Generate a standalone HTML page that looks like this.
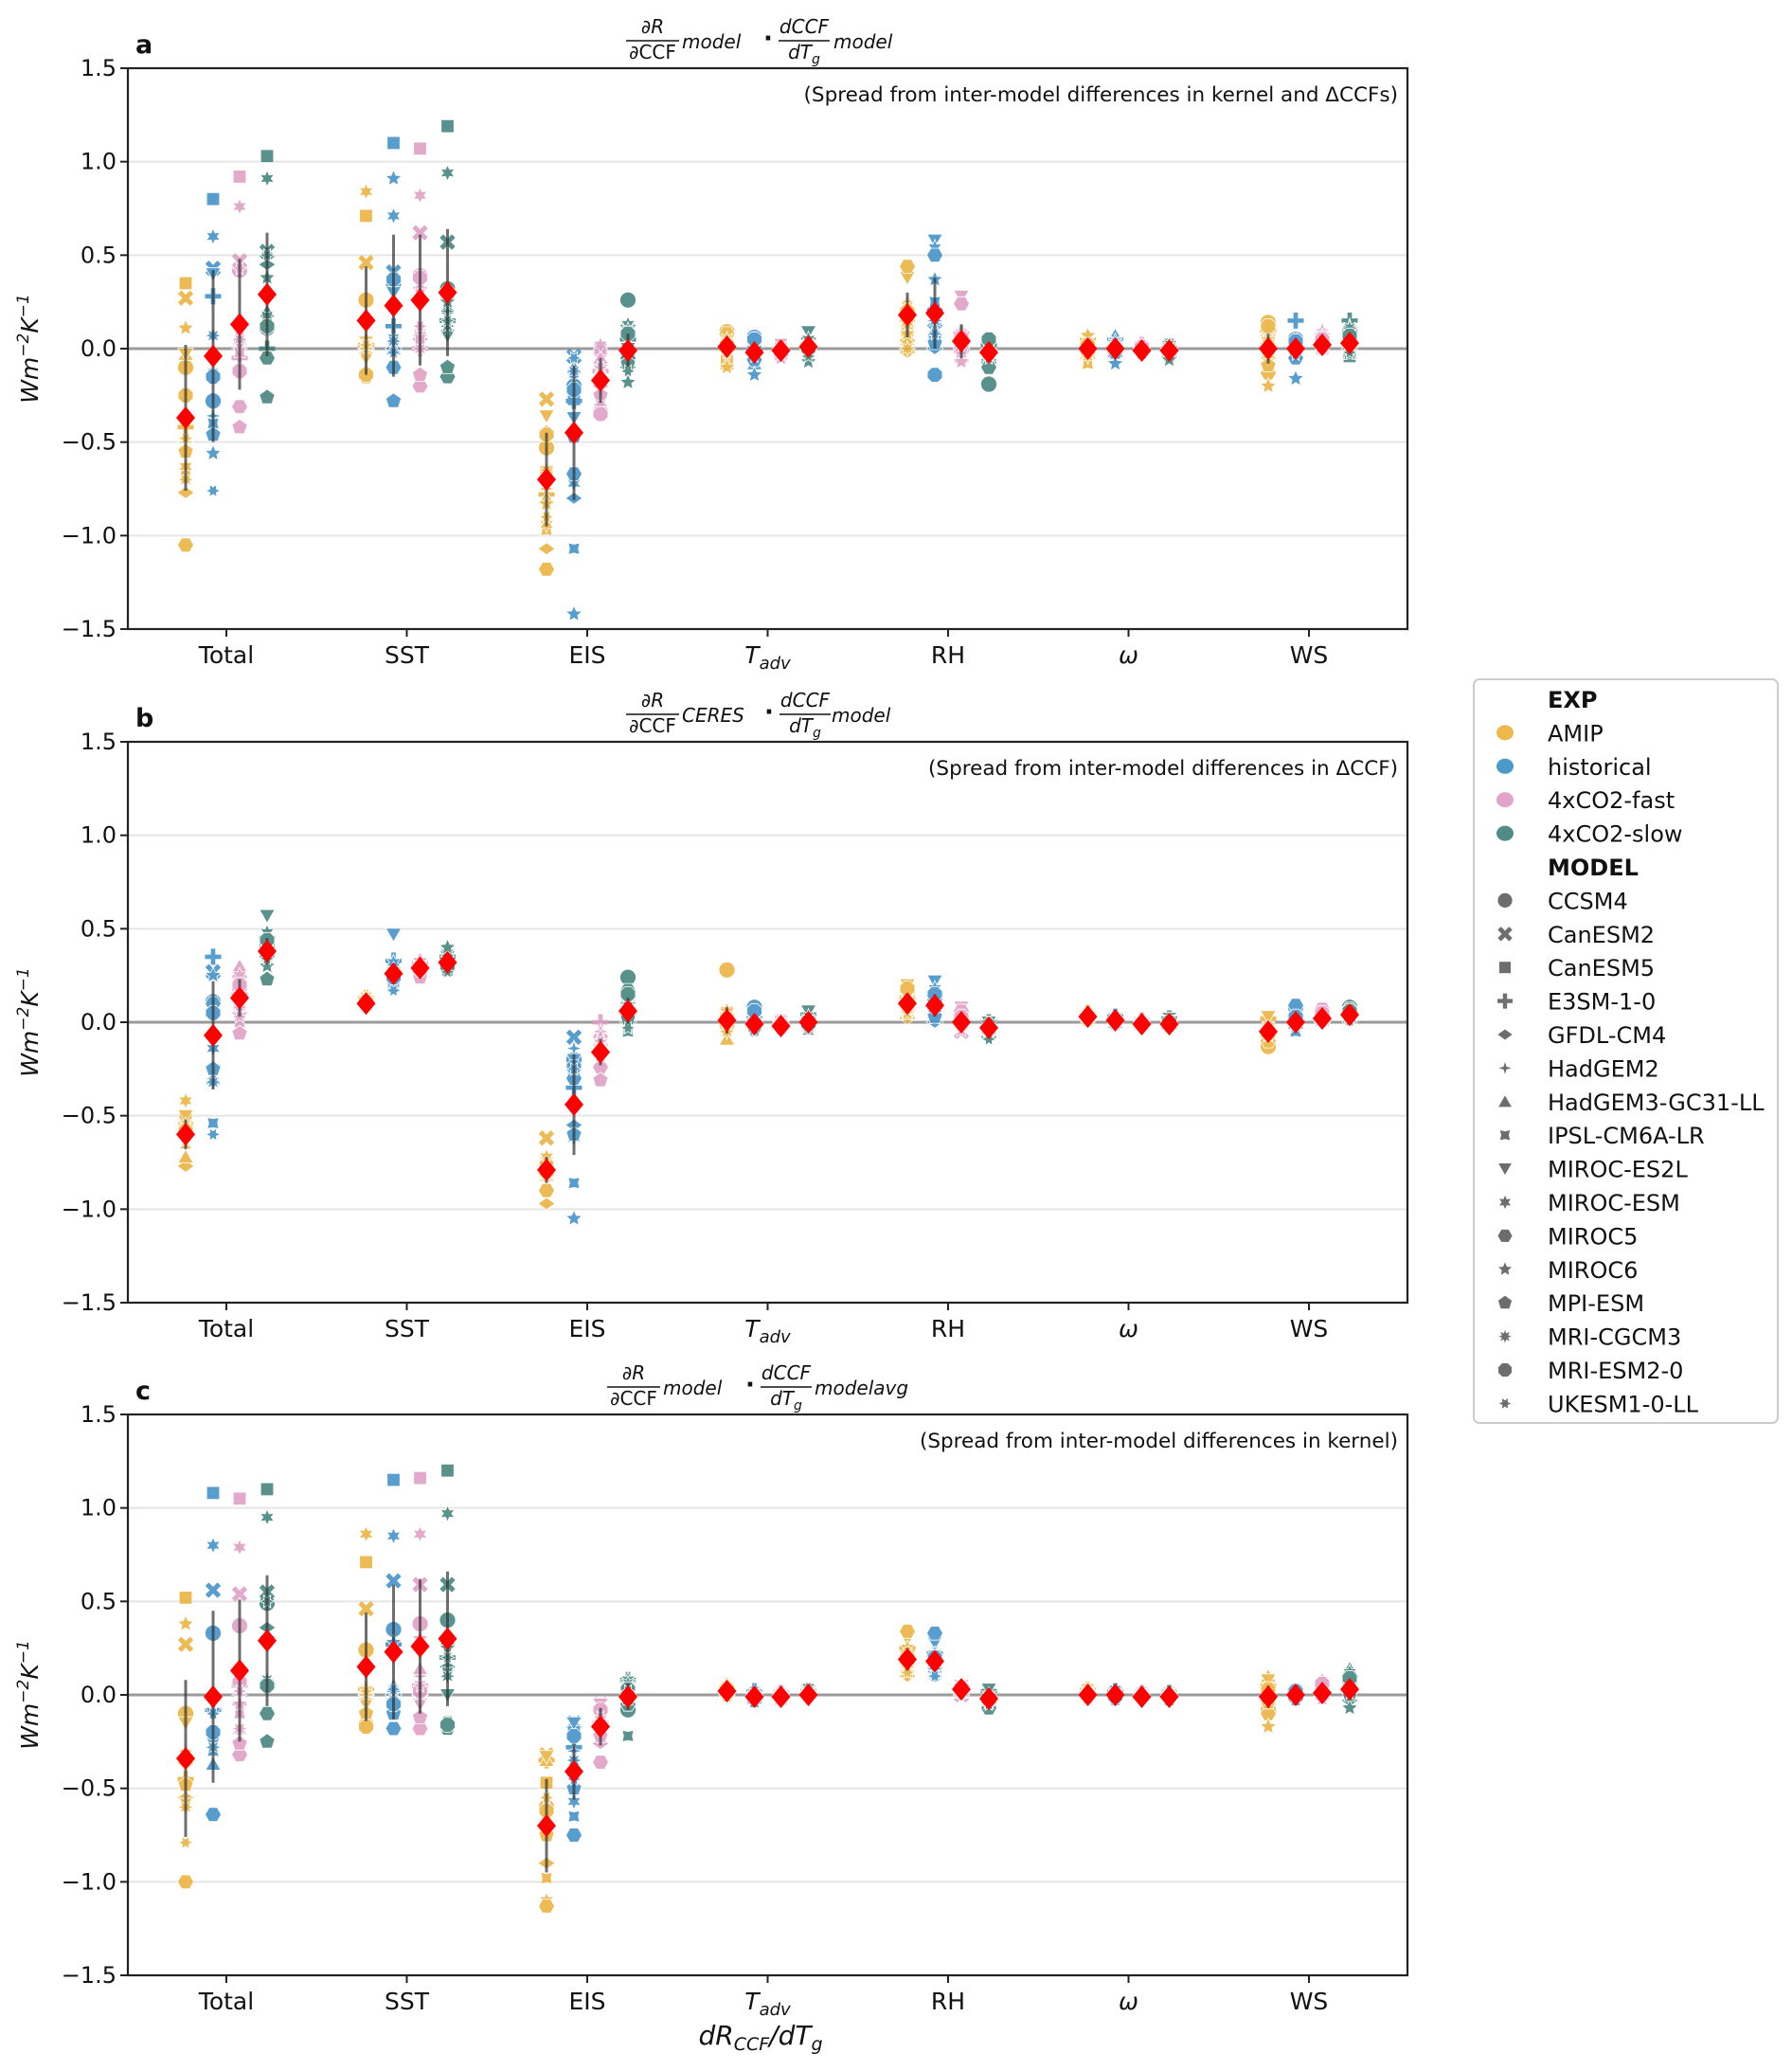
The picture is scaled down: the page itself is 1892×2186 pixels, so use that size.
<!DOCTYPE html>
<html><head><meta charset="utf-8"><style>
html,body{margin:0;padding:0;background:#fff;}
svg{display:block;font-family:"DejaVu Sans","Liberation Sans",sans-serif;}
</style></head><body>
<svg id="fig" width="1892" height="2186" viewBox="0 0 1892 2186" xmlns="http://www.w3.org/2000/svg"></svg>
<script>
const categories=["Total","SST","EIS","Tadv","RH","omega","WS"];
const experiments=["AMIP","historical","4xCO2-fast","4xCO2-slow"];
const models=["CCSM4","CanESM2","CanESM5","E3SM-1-0","GFDL-CM4","HadGEM2","HadGEM3-GC31-LL","IPSL-CM6A-LR","MIROC-ES2L","MIROC-ESM","MIROC5","MIROC6","MPI-ESM","MRI-CGCM3","MRI-ESM2-0","UKESM1-0-LL"];
const yTicks=[1.5,1.0,0.5,0.0,-0.5,-1.0,-1.5];
const yTickLabels=["1.5","1.0","0.5","0.0","\u22120.5","\u22121.0","\u22121.5"];

const panelA_values=[
[[-0.10,0.27,0.35,-0.42,-0.77,-0.50,-0.03,-0.65,-0.03,-0.63,-1.05,0.11,-0.55,-0.70,-0.25,-0.48],
 [-0.28,0.43,0.80,0.28,-0.45,-0.36,-0.42,-0.40,0.40,0.60,-0.14,-0.56,-0.46,0.07,-0.15,-0.76],
 [0.42,0.47,0.92,-0.05,-0.10,0.00,0.05,-0.02,0.02,0.76,-0.31,0.10,-0.42,0.05,-0.12,0.43],
 [0.11,0.52,1.03,0.00,0.45,0.20,0.20,0.17,0.10,0.91,-0.05,0.38,-0.26,0.12,0.12,0.50]],
[[0.26,0.46,0.71,0.02,0.00,0.05,0.00,0.03,-0.05,0.84,-0.15,0.05,-0.13,0.00,-0.14,0.02],
 [0.34,0.41,1.10,0.12,0.00,0.02,0.00,0.05,0.30,0.71,-0.10,0.91,-0.28,0.04,0.37,-0.02],
 [0.39,0.62,1.07,0.00,0.05,0.10,0.10,0.05,0.30,0.82,-0.20,0.35,-0.14,0.00,0.38,0.12],
 [0.32,0.57,1.19,0.15,0.20,0.20,0.30,0.10,0.07,0.94,-0.15,0.25,-0.10,0.12,0.30,0.15]],
[[-0.53,-0.27,-0.66,-0.78,-1.07,-0.75,-0.80,-0.97,-0.36,-0.94,-1.18,-0.83,-0.45,-0.65,-0.46,-0.90],
 [-0.20,-0.04,-0.27,-0.28,-0.80,-0.15,-0.10,-1.07,-0.37,-0.72,-0.67,-1.42,-0.47,-0.12,-0.22,-0.05],
 [-0.35,-0.05,0.00,-0.12,-0.20,-0.10,-0.05,-0.15,-0.20,0.02,-0.33,-0.10,-0.25,-0.30,-0.35,-0.10],
 [0.26,0.10,0.00,0.05,-0.10,-0.05,0.00,-0.10,0.00,0.13,-0.05,-0.18,-0.08,0.10,0.08,-0.12]],
[[0.09,0.05,-0.05,0.00,0.03,-0.03,-0.08,0.02,0.06,0.04,0.08,-0.10,0.00,0.05,0.02,-0.02],
 [0.06,0.03,-0.05,0.00,-0.03,0.02,-0.08,0.04,-0.02,0.05,-0.06,-0.14,0.00,0.02,0.05,-0.04],
 [0.00,-0.02,0.02,0.00,-0.03,-0.01,0.01,-0.02,-0.03,0.00,-0.04,-0.05,0.00,0.01,-0.02,-0.01],
 [0.00,0.03,0.01,0.02,-0.02,0.00,0.04,-0.03,0.09,0.05,0.00,-0.07,0.01,0.02,0.00,-0.04]],
[[0.15,0.02,0.10,0.20,-0.02,0.25,0.05,0.22,0.38,0.12,0.44,0.08,0.16,0.00,0.20,0.13],
 [0.20,0.10,0.05,0.20,0.00,0.15,0.10,0.25,0.58,0.54,0.50,0.37,0.03,0.15,-0.14,0.08],
 [0.00,-0.04,0.05,0.08,0.02,0.10,0.06,-0.02,0.28,0.05,0.24,-0.07,0.00,0.03,0.06,0.02],
 [-0.19,-0.05,0.00,0.02,-0.06,-0.03,0.00,-0.08,0.03,0.05,-0.10,-0.02,0.04,0.00,0.05,-0.05]],
[[0.02,-0.03,0.00,0.05,-0.05,0.03,0.00,-0.08,0.01,0.04,-0.02,0.07,0.00,-0.04,0.02,0.00],
 [0.03,0.00,-0.02,0.05,-0.04,0.02,0.07,-0.03,0.00,0.04,-0.02,-0.08,0.01,0.02,0.00,0.03],
 [0.00,-0.01,0.00,0.02,-0.03,0.01,0.00,-0.02,0.01,0.00,-0.02,-0.01,0.01,0.00,0.01,0.00],
 [0.00,-0.02,0.02,0.01,-0.03,0.00,0.01,-0.04,0.01,0.00,0.00,-0.06,0.01,0.02,-0.01,0.00]],
[[0.14,0.05,0.00,0.10,-0.05,0.08,0.02,-0.08,0.03,0.10,-0.13,-0.20,-0.09,0.04,0.12,0.00],
 [0.05,0.02,0.00,0.15,-0.03,0.04,0.06,-0.02,0.00,0.03,-0.05,-0.16,0.01,0.02,0.04,-0.03],
 [0.05,0.03,0.00,0.02,0.08,0.10,0.07,0.04,0.03,0.02,0.06,0.00,0.01,0.03,0.05,0.02],
 [0.10,0.05,-0.04,0.15,0.00,0.12,0.05,-0.03,0.02,0.08,0.06,0.00,0.03,0.11,0.07,-0.02]]];
const panelA_means=[[-0.37,-0.04,0.13,0.29],[0.15,0.23,0.26,0.30],[-0.70,-0.45,-0.17,-0.01],[0.01,-0.02,-0.01,0.01],[0.18,0.19,0.04,-0.02],[0.00,0.00,-0.01,-0.01],[0.00,0.00,0.02,0.03]];
const panelA_err=[[0.39,0.46,0.35,0.33],[0.29,0.38,0.35,0.34],[0.25,0.36,0.12,0.09],[0.04,0.04,0.02,0.04],[0.12,0.19,0.09,0.05],[0.03,0.03,0.01,0.02],[0.08,0.05,0.03,0.05]];

const panelB_values=[
[[-0.55,-0.58,-0.50,-0.60,-0.77,-0.62,-0.72,-0.65,-0.50,-0.42,-0.57,-0.63,-0.60,-0.55,-0.58,-0.62],
 [0.11,0.27,0.08,0.35,-0.25,-0.30,-0.30,-0.54,0.06,-0.14,0.10,0.25,-0.25,-0.32,0.05,-0.60],
 [0.18,0.22,0.10,0.15,0.05,0.10,0.30,0.00,0.20,0.25,0.12,0.15,-0.06,0.08,0.20,0.03],
 [0.42,0.38,0.40,0.45,0.35,0.33,0.40,0.36,0.57,0.48,0.44,0.30,0.23,0.38,0.44,0.34]],
[[0.11,0.12,0.10,0.13,0.10,0.11,0.12,0.10,0.11,0.13,0.10,0.11,0.10,0.12,0.11,0.10],
 [0.25,0.30,0.22,0.33,0.24,0.27,0.30,0.20,0.47,0.32,0.25,0.28,0.22,0.26,0.24,0.17],
 [0.28,0.30,0.27,0.32,0.25,0.30,0.33,0.26,0.30,0.31,0.28,0.33,0.24,0.29,0.28,0.30],
 [0.30,0.33,0.32,0.35,0.28,0.30,0.33,0.30,0.35,0.37,0.30,0.40,0.28,0.32,0.30,0.27]],
[[-0.78,-0.62,-0.75,-0.80,-0.97,-0.78,-0.82,-0.74,-0.78,-0.72,-0.90,-0.80,-0.76,-0.82,-0.80,-0.77],
 [-0.20,-0.08,-0.28,-0.35,-0.55,-0.14,-0.42,-0.86,-0.20,-0.62,-0.30,-1.05,-0.60,-0.45,-0.24,-0.25],
 [-0.12,-0.10,-0.15,0.00,-0.18,-0.05,-0.08,-0.20,-0.12,-0.15,-0.24,-0.18,-0.31,-0.13,-0.16,-0.10],
 [0.24,0.08,0.10,0.05,0.00,0.12,0.08,-0.05,0.10,0.07,0.17,0.03,0.02,0.12,0.15,-0.03]],
[[0.28,0.02,0.05,0.00,-0.03,0.05,-0.09,0.00,0.02,0.04,-0.02,0.06,0.00,-0.05,0.02,0.00],
 [0.08,0.00,0.05,0.02,-0.03,0.00,0.04,-0.05,-0.02,0.03,-0.03,-0.04,0.00,0.02,0.06,-0.01],
 [0.00,-0.02,0.01,0.00,-0.04,-0.01,0.02,-0.03,-0.02,0.00,-0.03,-0.01,0.00,0.01,-0.02,-0.01],
 [-0.02,0.02,0.01,0.04,-0.03,0.00,0.03,-0.04,0.06,0.02,-0.02,0.00,0.01,0.03,-0.01,0.00]],
[[0.15,0.05,0.10,0.12,0.02,0.15,0.08,0.04,0.20,0.13,0.10,0.05,0.08,0.12,0.18,0.07],
 [0.10,0.05,0.08,0.15,0.00,0.12,0.06,0.02,0.22,0.18,0.12,0.05,0.03,0.10,0.15,0.08],
 [0.02,-0.05,0.00,0.05,-0.03,0.04,0.00,-0.02,0.08,0.02,0.06,-0.04,0.00,0.01,0.03,-0.02],
 [-0.03,-0.05,-0.02,0.00,-0.08,-0.03,-0.01,-0.06,0.00,-0.02,-0.05,-0.07,-0.01,-0.04,-0.03,-0.09]],
[[0.03,0.02,0.04,0.05,0.01,0.03,0.02,0.04,0.03,0.02,0.03,0.04,0.02,0.03,0.03,0.02],
 [0.02,0.00,0.01,0.03,-0.01,0.02,0.00,0.01,0.02,0.00,0.01,-0.01,0.00,0.02,0.01,0.00],
 [0.00,-0.01,0.00,0.01,-0.02,0.00,-0.01,-0.01,0.00,-0.01,0.00,-0.02,0.00,0.00,-0.01,0.00],
 [0.00,-0.01,0.01,0.02,-0.02,0.00,-0.01,-0.01,0.02,0.00,0.00,-0.02,0.00,0.01,0.00,-0.01]],
[[-0.13,-0.05,-0.03,0.02,-0.08,-0.04,-0.02,-0.06,0.03,-0.05,-0.10,-0.07,-0.04,-0.03,-0.06,-0.05],
 [0.08,0.00,0.02,0.03,-0.03,0.00,0.01,-0.05,0.02,0.00,0.09,-0.02,0.01,0.00,0.03,-0.01],
 [0.06,0.02,0.03,0.04,0.00,0.02,0.01,0.00,0.03,0.02,0.07,0.01,0.02,0.03,0.05,0.00],
 [0.08,0.04,0.05,0.06,0.01,0.04,0.03,0.02,0.05,0.04,0.07,0.02,0.03,0.04,0.06,0.01]]];
const panelB_means=[[-0.60,-0.07,0.13,0.38],[0.10,0.26,0.29,0.32],[-0.79,-0.44,-0.16,0.06],[0.01,-0.01,-0.02,0.00],[0.10,0.09,0.00,-0.03],[0.03,0.01,-0.01,-0.01],[-0.05,0.00,0.02,0.04]];
const panelB_err=[[0.08,0.29,0.10,0.07],[0.02,0.05,0.03,0.03],[0.07,0.27,0.07,0.07],[0.07,0.03,0.02,0.03],[0.05,0.06,0.04,0.03],[0.01,0.01,0.01,0.01],[0.04,0.03,0.02,0.02]];

const panelC_values=[
[[-0.10,0.27,0.52,-0.45,-0.55,-0.30,-0.32,-0.58,-0.15,-0.50,-1.00,0.38,-0.48,-0.60,-0.35,-0.79],
 [0.33,0.56,1.08,-0.08,-0.20,-0.25,-0.37,-0.30,-0.10,0.80,-0.64,-0.20,-0.22,-0.28,-0.20,-0.10],
 [0.37,0.54,1.05,0.05,-0.05,0.00,-0.18,-0.10,0.05,0.79,-0.32,-0.05,-0.26,-0.18,0.07,0.02],
 [0.49,0.55,1.10,0.05,0.36,0.30,0.08,0.05,0.05,0.95,-0.10,0.30,-0.25,0.08,0.05,0.50]],
[[0.24,0.46,0.71,0.03,0.00,0.05,0.00,0.02,-0.05,0.86,-0.15,0.03,-0.10,0.00,-0.17,0.02],
 [0.35,0.61,1.15,0.27,0.00,0.05,0.05,0.00,-0.05,0.85,-0.18,0.28,-0.10,0.02,-0.05,0.03],
 [0.38,0.59,1.16,0.05,0.00,0.10,0.14,0.05,-0.05,0.86,-0.18,0.30,-0.12,0.00,0.02,0.05],
 [0.40,0.59,1.20,0.20,0.15,0.10,0.30,0.12,0.00,0.97,-0.15,0.25,-0.18,0.10,-0.16,0.20]],
[[-0.60,-0.32,-0.47,-0.35,-0.90,-0.75,-0.35,-0.98,-0.33,-1.10,-1.13,-0.72,-0.75,-0.68,-0.62,-0.55],
 [-0.22,-0.15,-0.20,-0.28,-0.50,-0.30,-0.40,-0.65,-0.15,-0.57,-0.75,-0.40,-0.50,-0.35,-0.22,-0.45],
 [-0.08,-0.05,-0.10,-0.15,-0.26,-0.08,-0.12,-0.20,-0.05,-0.15,-0.36,-0.18,-0.22,-0.10,-0.08,-0.12],
 [-0.08,0.05,0.02,0.08,-0.02,0.00,0.03,-0.22,0.05,0.08,-0.05,0.00,-0.02,0.06,0.03,0.02]],
[[0.02,0.03,0.01,0.04,0.00,0.02,0.06,0.01,0.03,0.02,0.00,0.04,0.01,0.02,0.03,-0.01],
 [0.00,-0.02,0.01,0.02,-0.03,0.00,0.01,-0.02,0.00,-0.01,-0.03,-0.02,0.00,0.01,-0.01,0.00],
 [-0.01,0.00,-0.02,0.01,-0.02,0.00,0.00,-0.01,0.00,-0.02,0.00,-0.01,0.00,0.00,-0.01,0.00],
 [0.00,0.02,0.01,0.02,-0.01,0.00,0.02,-0.01,0.01,0.02,0.00,0.00,0.01,0.02,0.00,0.00]],
[[0.20,0.15,0.22,0.25,0.10,0.20,0.15,0.12,0.30,0.25,0.34,0.18,0.22,0.15,0.20,0.12],
 [0.18,0.12,0.20,0.22,0.10,0.18,0.15,0.12,0.28,0.22,0.33,0.16,0.20,0.14,0.20,0.10],
 [0.03,0.00,0.05,0.04,0.00,0.03,0.02,0.01,0.05,0.04,0.04,0.02,0.03,0.02,0.04,0.01],
 [-0.02,-0.04,0.00,0.02,-0.05,-0.02,0.00,-0.03,0.03,0.00,-0.07,-0.04,-0.01,-0.02,-0.03,-0.05]],
[[0.01,0.02,0.00,0.03,-0.01,0.02,0.04,0.00,0.01,0.02,-0.01,0.00,0.01,0.02,0.00,0.01],
 [0.00,0.01,-0.01,0.02,-0.02,0.00,0.01,-0.01,0.00,0.01,-0.02,0.00,0.00,0.01,-0.01,0.00],
 [0.00,0.00,-0.01,0.01,-0.02,0.00,0.00,-0.01,0.00,0.00,-0.01,0.00,0.00,0.00,-0.01,0.00],
 [-0.01,0.00,0.00,0.01,-0.02,0.00,0.00,-0.01,0.00,0.00,-0.02,0.00,0.00,0.00,-0.01,0.00]],
[[-0.08,0.02,0.00,0.05,-0.05,0.03,0.10,-0.03,0.08,0.02,-0.10,-0.17,-0.04,0.01,0.03,-0.02],
 [0.01,0.00,0.02,0.02,-0.02,0.00,0.01,-0.01,0.00,0.01,-0.02,-0.01,0.00,0.01,0.02,0.00],
 [0.03,0.00,0.02,0.05,-0.02,0.04,0.08,0.00,0.02,0.05,0.01,-0.02,0.00,0.03,0.06,0.01],
 [0.06,0.03,0.05,0.10,-0.03,0.08,0.14,0.00,0.03,0.12,0.02,-0.07,0.00,0.05,0.09,0.01]]];
const panelC_means=[[-0.34,-0.01,0.13,0.29],[0.15,0.23,0.26,0.30],[-0.70,-0.41,-0.17,-0.01],[0.02,-0.01,-0.01,0.00],[0.19,0.18,0.03,-0.02],[0.00,0.00,-0.01,-0.01],[-0.01,0.00,0.01,0.03]];
const panelC_err=[[0.42,0.46,0.38,0.35],[0.29,0.36,0.36,0.36],[0.25,0.15,0.10,0.07],[0.03,0.02,0.01,0.02],[0.06,0.05,0.03,0.04],[0.01,0.01,0.01,0.01],[0.06,0.02,0.03,0.05]];

const expColors=["#EBB038","#3A8EC7","#DE9BC3","#3D7E79"];
const NS="http://www.w3.org/2000/svg";
const svg=document.getElementById('fig');
function el(tag,attrs,parent){const e=document.createElementNS(NS,tag);for(const k in attrs)e.setAttribute(k,attrs[k]);(parent||svg).appendChild(e);return e;}
function starPts(cx,cy,n,ro,ri,rot){let p=[];for(let i=0;i<2*n;i++){const r=i%2?ri:ro;const a=rot+i*Math.PI/n;p.push((cx+r*Math.sin(a)).toFixed(1)+","+(cy-r*Math.cos(a)).toFixed(1));}return p.join(" ");}
function polyPts(cx,cy,n,r,rot){let p=[];for(let i=0;i<n;i++){const a=rot+i*2*Math.PI/n;p.push((cx+r*Math.sin(a)).toFixed(1)+","+(cy-r*Math.cos(a)).toFixed(1));}return p.join(" ");}
function marker(m,cx,cy,r,fill,parent){
  let s;
  switch(m){
    case 0:s=el('circle',{cx:cx,cy:cy,r:r},parent);break;
    case 1:s=el('path',{d:`M${cx-r*0.75},${cy-r*0.75}L${cx+r*0.75},${cy+r*0.75}M${cx+r*0.75},${cy-r*0.75}L${cx-r*0.75},${cy+r*0.75}`,stroke:fill,'stroke-width':r*0.6,fill:'none'},parent);break;
    case 2:s=el('rect',{x:cx-r*0.8,y:cy-r*0.8,width:r*1.6,height:r*1.6},parent);break;
    case 3:s=el('path',{d:`M${cx-r},${cy}L${cx+r},${cy}M${cx},${cy-r}L${cx},${cy+r}`,stroke:fill,'stroke-width':r*0.55,fill:'none'},parent);break;
    case 4:s=el('polygon',{points:`${cx-r*1.05},${cy} ${cx},${cy-r*0.75} ${cx+r*1.05},${cy} ${cx},${cy+r*0.75}`},parent);break;
    case 5:s=el('polygon',{points:starPts(cx,cy,4,r,r*0.32,0)},parent);break;
    case 6:s=el('polygon',{points:polyPts(cx,cy+r*0.2,3,r*1.1,0)},parent);break;
    case 7:s=el('polygon',{points:starPts(cx,cy,4,r,r*0.55,Math.PI/4)},parent);break;
    case 8:s=el('polygon',{points:polyPts(cx,cy-r*0.2,3,r*1.1,Math.PI)},parent);break;
    case 9:s=el('polygon',{points:starPts(cx,cy,6,r,r*0.5,0)},parent);break;
    case 10:s=el('polygon',{points:polyPts(cx,cy,6,r,Math.PI/6)},parent);break;
    case 11:s=el('polygon',{points:starPts(cx,cy,5,r*1.05,r*0.48,0)},parent);break;
    case 12:s=el('polygon',{points:polyPts(cx,cy,5,r,0)},parent);break;
    case 13:s=el('polygon',{points:starPts(cx,cy,8,r,r*0.5,0)},parent);break;
    case 14:s=el('polygon',{points:polyPts(cx,cy,8,r,Math.PI/8)},parent);break;
    default:s=el('polygon',{points:starPts(cx,cy,6,r*0.9,r*0.45,Math.PI/6)},parent);
  }
  if(m!==1&&m!==3){s.setAttribute('fill',fill);s.setAttribute('stroke','#fff');s.setAttribute('stroke-width','0.8');}
  return s;
}
function txt(x,y,str,attrs,parent){const t=el('text',Object.assign({x:x,y:y},attrs||{}),parent);t.textContent=str;return t;}

const axL=135,axR=1486,axH=592;
const catX0=239,catDX=190.5;
const expOff=[-43,-14,14,43];
const panels=[
 {top:72,letter:"a",vals:panelA_values,means:panelA_means,err:panelA_err,spread:"(Spread from inter-model differences in kernel and \u0394CCFs)",t1:"model",t2:"model",fx:661,g:{m1:720,f2:822,m2:880}},
 {top:783,letter:"b",vals:panelB_values,means:panelB_means,err:panelB_err,spread:"(Spread from inter-model differences in \u0394CCF)",t1:"CERES",t2:"model",fx:661,g:{m1:720,f2:823,m2:878}},
 {top:1493,letter:"c",vals:panelC_values,means:panelC_means,err:panelC_err,spread:"(Spread from inter-model differences in kernel)",t1:"model",t2:"modelavg",fx:641,g:{m1:700,f2:803,m2:860}}
];

panels.forEach((P,pi)=>{
  const g=el('g',{});
  
  
  const top=P.top,bot=top+axH;
  const ys=v=>top+(1.5-v)/3*axH;
  const xs=(c,e)=>catX0+c*catDX+expOff[e];
  yTicks.forEach((t,i)=>{
    if(t!==0&&Math.abs(t)<1.5){const l=el('line',{x1:axL,x2:axR,y1:ys(t),y2:ys(t),stroke:'#e5e5e5','stroke-width':2},g);
      
      }
  });
  const zl=el('line',{x1:axL,x2:axR,y1:ys(0),y2:ys(0),stroke:'#9a9a9a','stroke-width':3},g);
  
  
  P.vals.forEach((cat,c)=>{
    cat.forEach((arr,e)=>{
      const grp=el('g',{opacity:0.85},g);
      
      
      arr.forEach((v,m)=>{
        if(v===null)return;
        const mk=marker(m,xs(c,e),ys(v),8.5,expColors[e],grp);
        
        
      });
    });
  });
  P.means.forEach((cat,c)=>{
    cat.forEach((mv,e)=>{
      const x=xs(c,e),er=P.err[c][e];
      const eb=el('line',{x1:x,x2:x,y1:ys(mv+er),y2:ys(mv-er),stroke:'#333','stroke-width':3,opacity:0.7},g);
      
      
      const y=ys(mv);
      const d=el('polygon',{points:`${x-10},${y} ${x},${y-12} ${x+10},${y} ${x},${y+12}`,fill:'#ff0000'},g);
      
      
    });
  });
  const fr=el('rect',{x:axL,y:top,width:axR-axL,height:axH,fill:'none',stroke:'#222','stroke-width':2.2},g);
  
  
  yTicks.forEach((t,i)=>{
    el('line',{x1:axL-8,x2:axL,y1:ys(t),y2:ys(t),stroke:'#222','stroke-width':2},g);
    const tl=txt(axL-12,ys(t)+8,yTickLabels[i],{'text-anchor':'end','font-size':24,fill:'#111'},g);
    
    
  });
  categories.forEach((c,i)=>{
    const x=catX0+i*catDX;
    el('line',{x1:x,x2:x,y1:bot,y2:bot+8,stroke:'#222','stroke-width':2},g);
    const t=el('text',{x:x,y:bot+36,'text-anchor':'middle','font-size':25,fill:'#111'},g);
    
    
    if(c==="Tadv"){t.innerHTML='<tspan font-style="italic">T</tspan><tspan font-style="italic" font-size="18" dy="6">adv</tspan>';}
    else if(c==="omega"){t.innerHTML='<tspan font-style="italic">\u03c9</tspan>';}
    else t.textContent=c;
  });
  const lt=txt(143,top-16,P.letter,{'font-size':27,'font-weight':'bold',fill:'#111'},g);
  
  
  const tg=el('g',{fill:'#111','font-size':20},g);
  
  
  const fy=top-29;
  txt(P.fx+28,fy-8,'\u2202R',{'text-anchor':'middle','font-style':'italic'},tg);
  el('line',{x1:P.fx,x2:P.fx+56,y1:fy,y2:fy,stroke:'#111','stroke-width':1.5},tg);
  txt(P.fx+28,fy+19,'\u2202CCF',{'text-anchor':'middle'},tg);
  txt(P.g.m1,fy+8,P.t1,{'font-style':'italic'},tg);
  txt(P.g.f2-16,fy+6,'\u00b7',{'font-size':26,'font-weight':'bold'},tg);
  txt(P.g.f2+27,fy-8,'dCCF',{'text-anchor':'middle','font-style':'italic'},tg);
  el('line',{x1:P.g.f2,x2:P.g.f2+54,y1:fy,y2:fy,stroke:'#111','stroke-width':1.5},tg);
  const dt=el('text',{x:P.g.f2+27,y:fy+19,'text-anchor':'middle','font-style':'italic'},tg);
  dt.innerHTML='dT<tspan font-size="14" dy="5">g</tspan>';
  txt(P.g.m2,fy+8,P.t2,{'font-style':'italic'},tg);
  const sp=txt(axR-10,top+35,P.spread,{'text-anchor':'end','font-size':21.5,fill:'#111'},g);
  
  
  const yl=el('text',{x:0,y:0,transform:`translate(40,${top+axH/2}) rotate(-90)`,'text-anchor':'middle','font-size':25,'font-style':'italic',fill:'#111'},g);
  
  
  yl.innerHTML='Wm<tspan font-size="17" dy="-10">\u22122</tspan><tspan dy="10">K</tspan><tspan font-size="17" dy="-10">\u22121</tspan>';
});

const xl=el('text',{x:803,y:2158,'text-anchor':'middle','font-size':28,'font-style':'italic',fill:'#111'});


xl.innerHTML='dR<tspan font-size="19" dy="6">CCF</tspan><tspan dy="-6">/dT</tspan><tspan font-size="19" dy="6">g</tspan>';

const lg=el('g',{});


el('rect',{x:1556,y:717,width:321,height:785,rx:6,fill:'#fff',stroke:'#cccccc','stroke-width':2},lg);
const rowY=i=>738+35.4*i;
const th1=txt(1634,rowY(0)+9,'EXP',{'font-size':24,'font-weight':'bold',fill:'#111'},lg);


experiments.forEach((e,i)=>{
  const row=el('g',{},lg);
  
  
  el('ellipse',{cx:1589,cy:rowY(i+1),rx:9,ry:8,fill:expColors[i],opacity:0.9},row);
  txt(1634,rowY(i+1)+9,e,{'font-size':24,fill:'#111'},row);
});
const th2=txt(1634,rowY(5)+9,'MODEL',{'font-size':24,'font-weight':'bold',fill:'#111'},lg);


models.forEach((m,i)=>{
  const row=el('g',{},lg);
  
  
  const mk=marker(i,1589,rowY(i+6),8,'#666',row);
  mk.setAttribute('opacity','0.95');
  txt(1634,rowY(i+6)+9,m,{'font-size':24,fill:'#111'},row);
});
</script>
</body></html>
